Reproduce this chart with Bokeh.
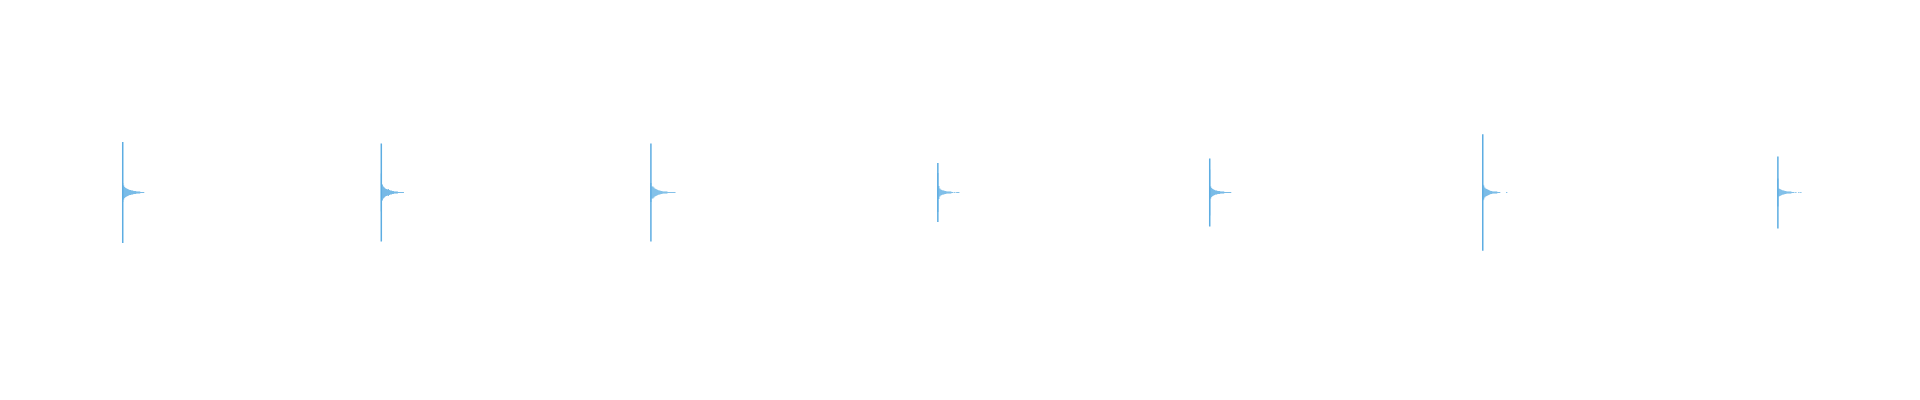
from bokeh.plotting import figure
from bokeh.models import Range1d, ColumnDataSource
from bokeh.embed import file_html
from bokeh.resources import INLINE

# onset times (ms) of each transient
onsets = [642, 2000, 3416, 4923, 6351, 7785, 9335]
# peak amplitude of the initial spike (full scale = 1)
spike_amp = [0.263, 0.255, 0.255, 0.154, 0.177, 0.304, 0.1875]
# decay envelope after each onset, one value per 5.25 ms bin
env1 = [0.049, 0.036, 0.029, 0.023, 0.021, 0.018, 0.016, 0.013, 0.013, 0.010, 0.010,
        0.008, 0.008, 0.008, 0.005, 0.005, 0.005, 0.005, 0.003, 0.003, 0.003, 0.003]
env2 = [0.099, 0.042, 0.031, 0.026, 0.021, 0.018, 0.016, 0.018, 0.013, 0.010, 0.010,
        0.008, 0.008, 0.005, 0.005, 0.005, 0.005, 0.003, 0.003, 0.003, 0.003, 0.003, 0.003]
env3 = [0.049, 0.031, 0.031, 0.026, 0.021, 0.018, 0.016, 0.013, 0.010, 0.010, 0.008,
        0.008, 0.005, 0.005, 0.005, 0.005, 0.005, 0.003, 0.003, 0.003, 0.003, 0.003,
        0.003, 0.003, 0.003]
env4 = [0.101, 0.034, 0.021, 0.016, 0.013, 0.010, 0.010, 0.008, 0.008, 0.005, 0.005,
        0.005, 0.005, 0.005, 0.003, 0.003, 0.0, 0.003, 0.0, 0.003, 0.003, 0.003]
env5 = [0.120, 0.031, 0.023, 0.018, 0.016, 0.013, 0.010, 0.010, 0.008, 0.008, 0.008,
        0.005, 0.005, 0.005, 0.005, 0.003, 0.003, 0.003, 0.003, 0.003, 0.003, 0.003]
env6 = [0.042, 0.036, 0.026, 0.021, 0.018, 0.016, 0.013, 0.010, 0.008, 0.008, 0.005,
        0.005, 0.005, 0.005, 0.005, 0.003, 0.003, 0.003, 0.0, 0.0, 0.0, 0.0, 0.0, 0.0, 0.003]
env7 = [0.073, 0.021, 0.018, 0.016, 0.013, 0.010, 0.010, 0.008, 0.008, 0.005, 0.005,
        0.005, 0.005, 0.005, 0.003, 0.003, 0.003, 0.0, 0.003, 0.0, 0.0, 0.003, 0.0, 0.003]
envelopes = [env1, env2, env3, env4, env5, env6, env7]
bin_ms = 5.25

color = "#5DADE2"

left, right, top, bottom = [], [], [], []
for t0, env in zip(onsets, envelopes):
    for i, a in enumerate(env):
        if a <= 0:
            continue
        left.append(t0 + i * bin_ms - bin_ms * 0.5)
        right.append(t0 + (i + 1) * bin_ms - bin_ms * 0.5)
        top.append(a)
        bottom.append(-a)
env_src = ColumnDataSource(dict(left=left, right=right, top=top, bottom=bottom))

spike_src = ColumnDataSource(dict(x=onsets, y0=[-a for a in spike_amp], y1=spike_amp))

p = figure(width=1904, height=384, output_backend="svg", toolbar_location=None,
           x_range=Range1d(0, 10000), y_range=Range1d(-1, 1), min_border=0)
p.axis.visible = False
p.grid.visible = False
p.outline_line_color = None
p.background_fill_color = "white"
p.border_fill_color = "white"

p.quad(left="left", right="right", top="top", bottom="bottom", source=env_src,
       fill_color=color, line_color=None)
p.segment(x0="x", y0="y0", x1="x", y1="y1", source=spike_src,
          line_color=color, line_width=1.5)

open("out.html", "w").write(file_html(p, INLINE))
